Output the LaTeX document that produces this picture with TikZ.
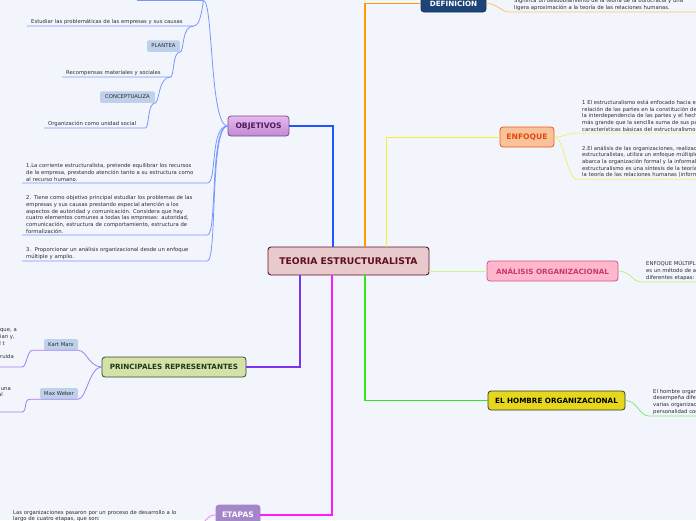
\documentclass[tikz,border=0pt]{standalone}
\usepackage{fontspec}
\setmainfont{DejaVu Sans}
\usetikzlibrary{positioning}
\definecolor{Backdrop}{HTML}{F3F5FD}
\definecolor{Ink}{HTML}{2C2C2C}
\definecolor{CoreFill}{HTML}{E8C9CC}
\definecolor{CoreLine}{HTML}{5C1426}
\definecolor{CoreInk}{HTML}{5C0F1E}
\definecolor{ObjTop}{HTML}{E8B8F0}
\definecolor{ObjBot}{HTML}{C08AD4}
\definecolor{ObjLine}{HTML}{7A4C8C}
\definecolor{ObjInk}{HTML}{4C1C5E}
\definecolor{DefFill}{HTML}{1D4477}
\definecolor{DefLine}{HTML}{163660}
\definecolor{EnfFill}{HTML}{F8C39B}
\definecolor{EnfLine}{HTML}{F2551B}
\definecolor{EnfInk}{HTML}{E5470F}
\definecolor{AnaFill}{HTML}{FFB7CD}
\definecolor{AnaLine}{HTML}{D64F7C}
\definecolor{AnaInk}{HTML}{C73A69}
\definecolor{HomFill}{HTML}{E5D71E}
\definecolor{HomLine}{HTML}{3A3A2A}
\definecolor{RepFill}{HTML}{D5E1A6}
\definecolor{RepLine}{HTML}{2E4B2E}
\definecolor{RepInk}{HTML}{1E3A1E}
\definecolor{EtaFill}{HTML}{A586C9}
\definecolor{TagFill}{HTML}{BED0EA}
\definecolor{LnBlue}{HTML}{1F55FF}
\definecolor{LnOrange}{HTML}{FF9A00}
\definecolor{LnYellow}{HTML}{F2F230}
\definecolor{LnLime}{HTML}{C8F58C}
\definecolor{LnGreen}{HTML}{33E61A}
\definecolor{LnPurple}{HTML}{7A33F0}
\definecolor{LnMagenta}{HTML}{FF1AFF}
\definecolor{LfBlue}{HTML}{7896FF}
\definecolor{LfOrange}{HTML}{FFC466}
\definecolor{LfYellow}{HTML}{F0F070}
\definecolor{LfLime}{HTML}{C3EF7E}
\definecolor{LfGreen}{HTML}{7CEC6E}
\definecolor{LfPurple}{HTML}{A57BF2}
\definecolor{LfMagenta}{HTML}{F37DF3}
\tikzset{
  hub/.style={draw=CoreLine, fill=CoreFill, text=CoreInk, rounded corners=3pt, line width=0.9pt, font=\bfseries\fontsize{9.2}{11}\selectfont, minimum width=161pt, minimum height=28pt, inner sep=0pt},
  topic/.style={draw, rounded corners=3pt, line width=0.8pt, font=\bfseries\fontsize{7.2}{8.5}\selectfont, minimum height=20pt, inner sep=0pt},
  big/.style={font=\bfseries\fontsize{7.6}{9}\selectfont},
  objv/.style={top color=ObjTop, bottom color=ObjBot, draw=ObjLine, text=ObjInk},
  defn/.style={fill=DefFill, draw=DefLine, text=white},
  enfq/.style={fill=EnfFill, draw=EnfLine, text=EnfInk},
  anal/.style={fill=AnaFill, draw=AnaLine, text=AnaInk},
  homb/.style={fill=HomFill, draw=HomLine, text=black},
  repr/.style={fill=RepFill, draw=RepLine, text=RepInk},
  etap/.style={fill=EtaFill, draw=EtaFill, text=white},
  tag/.style={fill=TagFill, rounded corners=1.5pt, text=Ink, font=\fontsize{5.3}{6}\selectfont, minimum height=11.5pt, inner sep=0pt},
  leaf/.style={text=Ink, align=left, font=\fontsize{5.3}{6.7}\selectfont, inner xsep=4pt, inner ysep=1.5pt, anchor=south west},
  wire/.style={line width=1.3pt},
  twig/.style={line width=0.8pt}
}
\begin{document}
\begin{tikzpicture}[x=1pt,y=-1pt]
  \clip (0,0) rectangle (696,520);
  \fill[Backdrop] (0,0) rectangle (696,520);

  % main topics
  \node[hub] (core) at (348.5,261) {TEORIA ESTRUCTURALISTA};
  \node[topic,big,objv,minimum width=61pt] (obj) at (258.5,126) {OBJETIVOS};
  \node[topic,defn,minimum width=65pt,minimum height=17pt] (def) at (453.5,3.5) {DEFINICION};
  \node[topic,big,enfq,minimum width=54pt] (enf) at (527,137) {ENFOQUE};
  \node[topic,anal,minimum width=131pt] (ana) at (552.5,271) {ANÁLISIS ORGANIZACIONAL};
  \node[topic,homb,minimum width=137pt,minimum height=19pt] (hom) at (556.5,400.5) {EL HOMBRE ORGANIZACIONAL};
  \node[topic,repr,minimum width=144pt] (rep) at (174,367) {PRINCIPALES REPRESENTANTES};
  \node[topic,big,etap,minimum width=44pt] (eta) at (238,515) {ETAPAS};

  % sub topics
  \node[tag,minimum width=33pt] (pl) at (163.5,46) {PLANTEA};
  \node[tag,minimum width=55pt] (con) at (127.5,97) {CONCEPTUALIZA};
  \node[tag,minimum width=34pt,minimum height=11pt] (km) at (61,344.5) {Kart Marx};
  \node[tag,minimum width=38pt,minimum height=11pt] (mw) at (59,393.5) {Max Weber};

  % objetivos
  \node[leaf,inner sep=0pt,minimum width=66pt] (o0) at (137,0.5) {};
  \node[leaf,text width=158pt] (o1) at (27,26) {Estudiar las problemáticas de las empresas y sus causas};
  \node[leaf,text width=100pt] (o2) at (62,77) {Recompensas materiales y sociales};
  \node[leaf,text width=93pt] (o3) at (44,128) {Organización como unidad social};
  \node[leaf,text width=177pt] (p1) at (22,183) {1.La corriente estructuralista, pretende equilibrar los recursos\\de la empresa, prestando atención tanto a su estructura como\\al recurso humano.};
  \node[leaf,text width=177pt] (p2) at (22,235) {2. Tiene como objetivo principal estudiar los problemas de las\\empresas y sus causas prestando especial atención a los\\aspectos de autoridad y comunicación. Considera que hay\\cuatro elementos comunes a todas las empresas: autoridad,\\comunicación, estructura de comportamiento, estructura de\\formalización.};
  \node[leaf,text width=177pt] (p3) at (22,261) {3.\ \ Proporcionar un análisis organizacional desde un enfoque\\múltiple y amplio.};

  % right side
  \node[leaf,text width=200pt] (d1) at (510,12) {Significa un desdoblamiento de la teoría de la burocracia y una\\ligera aproximación a la teoría de las relaciones humanas.};
  \node[leaf,text width=200pt] (e1) at (578,133) {1 El estructuralismo está enfocado hacia el todo y para la\\relación de las partes en la constitución del todo. La totalidad,\\la interdependencia de las partes y el hecho de que el todo es\\más grande que la sencilla suma de sus partes, son las\\características básicas del estructuralismo.};
  \node[leaf,text width=200pt] (e2) at (578,179.3) {2.El análisis de las organizaciones, realizado por los\\estructuralistas, utiliza un enfoque múltiple que\\abarca la organización formal y la informal. El\\estructuralismo es una síntesis de la teoría clásica y\\la teoría de las relaciones humanas (informal).};
  \node[leaf,text width=150pt] (a1) at (642,282) {ENFOQUE MÚLTIPLE: El análisis\\es un método de análisis que abarca\\diferentes etapas: formal e informal.};
  \node[leaf,text width=150pt] (h1) at (649,416) {El hombre organizacional\\desempeña diferentes papeles en\\varias organizaciones, con una\\personalidad cooperativa.};

  % representantes, etapas
  \node[leaf,anchor=south east,align=right,text width=150pt] (k1) at (22,367) {Karl Marx plantea que, a\kern1pt\\medida que las organizaciones se concilian y,\kern3pt\\surgen dos niveles: el de la burocracia y el t\kern13pt\\\mbox{}\\la organización queda construida\kern4pt\\\mbox{}};
  \node[leaf,anchor=south east,align=right,text width=150pt] (m1) at (22,412) {Max Weber la concibe como una\kern7pt\\estructura social formal\kern15pt\\\mbox{}\\\mbox{}};
  \node[leaf,text width=183pt] (t1) at (9,523.5) {Las organizaciones pasaron por un proceso de desarrollo a lo\\largo de cuatro etapas, que son:};

  % main connectors
  \draw[wire,LnBlue] ([xshift=-15.5pt]core.north) |- (obj.east);
  \draw[wire,LnOrange] ([xshift=16.5pt]core.north) |- (def.west);
  \draw[twig,LnYellow] ([xshift=37.5pt]core.north) |- (enf.west);
  \draw[twig,LnLime] ([yshift=-10pt]core.east) -- (ana.west);
  \draw[wire,LnGreen] ([xshift=16.5pt]core.south) |- (hom.west);
  \draw[wire,LnPurple] ([xshift=-48.5pt]core.south) |- (rep.east);
  \draw[wire,LnMagenta] ([xshift=-16.5pt]core.south) |- (eta.east);

  % objetivos branches
  \draw[twig,LfBlue] (obj.west) .. controls +(-18,0) and +(10,0) .. (o0.south east) -- (o0.south west);
  \draw[twig,LfBlue] (o0.south east) .. controls +(-2,14) and +(6,0) .. (o1.south east) -- (o1.south west);
  \draw[twig,LfBlue] (o1.south east) .. controls +(-12,0) and +(4,0) .. (pl.south east);
  \draw[twig,LfBlue] (pl.south east) .. controls +(-8,0) and +(4,0) .. (o2.south east) -- (o2.south west);
  \draw[twig,LfBlue] (o2.south east) .. controls +(-12,0) and +(4,0) .. (con.south east);
  \draw[twig,LfBlue] (con.south east) .. controls +(-8,0) and +(4,0) .. (o3.south east) -- (o3.south west);
  \foreach \p in {p1,p2,p3}
    \draw[twig,LfBlue] (obj.west) .. controls +(-18,0) and +(10,0) .. (\p.south east) -- (\p.south west);

  % right branches
  \draw[twig,LfOrange] (def.east) .. controls +(12,0) and +(-10,0) .. (d1.south west) -- (d1.south east);
  \draw[twig,LfYellow] (enf.east) .. controls +(10,0) and +(-10,0) .. (e1.south west) -- (e1.south east);
  \draw[twig,LfYellow] (enf.east) .. controls +(10,0) and +(-12,0) .. (e2.south west) -- (e2.south east);
  \draw[twig,LfLime] (ana.east) .. controls +(12,0) and +(-10,0) .. (a1.south west) -- (a1.south east);
  \draw[twig,LfGreen] (hom.east) .. controls +(12,0) and +(-10,0) .. (h1.south west) -- (h1.south east);

  % left branches
  \draw[twig,LfPurple] (rep.west) .. controls +(-12,0) and +(8,0) .. (km.south east) -- ([xshift=-11pt]km.south west) .. controls +(-6,0) and +(5,0) .. (k1.south east) -- (k1.south west);
  \draw[twig,LfPurple] (rep.west) .. controls +(-12,0) and +(8,0) .. (mw.south east) -- ([xshift=-10pt]mw.south west) .. controls +(-6,0) and +(5,0) .. (m1.south east) -- (m1.south west);
  \draw[twig,LfMagenta] (eta.west) .. controls +(-10,0) and +(6,0) .. (t1.south east) -- (t1.south west);
\end{tikzpicture}
\end{document}
